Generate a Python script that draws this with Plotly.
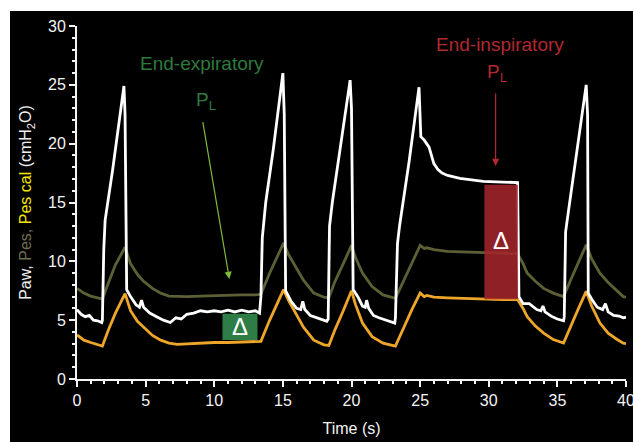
import plotly.graph_objects as go

# ---------------- data ----------------
t_paw = [0, 0.3, 0.6, 0.9, 1.2, 1.5, 1.8, 1.85, 1.95, 2.05, 2.6, 3.42, 3.5, 3.62, 3.9, 4.3, 4.55, 4.7, 4.85,
         5.3, 5.8, 6.3, 6.8, 7.2, 7.6, 8.0, 8.5, 9.0, 9.5, 10, 10.5, 11, 11.5, 12, 12.5, 13, 13.3,
         13.4, 13.5, 13.75, 14.3, 15.0, 15.1, 15.2, 15.6, 16.0, 16.3, 16.45, 16.6, 17.0, 17.5, 17.9, 18.2,
         18.3, 18.4, 18.6, 19.2, 19.9, 20.0, 20.12, 20.5, 20.8, 21.0, 21.1, 21.25, 21.6, 22.0, 22.5, 22.9, 23.15,
         23.2, 23.35, 23.5, 24.2, 24.92, 25.0, 25.05, 25.3, 25.65, 26.0, 26.3, 26.6, 27.0, 27.9, 28.8, 29.6,
         30.5, 31.3, 32.1, 32.2, 32.5, 32.95, 33.5, 33.8, 33.95, 34.1, 34.6, 35.0, 35.45,
         35.5, 35.6, 35.8, 36.4, 37.1, 37.2, 37.25, 37.6, 37.9, 38.3, 38.5, 38.7, 39.1, 39.5, 39.8, 40]
paw = [5.9, 5.5, 5.3, 5.4, 5.0, 4.95, 4.8, 5.0, 11.0, 13.5, 17.8, 24.9, 22.5, 7.6, 7.0, 6.3, 6.1, 6.7, 6.1,
       5.6, 5.3, 5.0, 4.8, 5.2, 5.1, 5.5, 5.6, 5.8, 5.7, 5.8, 5.7, 5.85, 5.7, 5.85, 5.7, 5.8, 5.6,
       7.0, 12.0, 15.0, 19.5, 26.0, 22.5, 7.5, 6.6, 6.0, 5.9, 6.6, 5.9, 5.4, 5.2, 5.0, 4.9,
       5.1, 13.0, 15.0, 20.0, 25.4, 23.0, 7.6, 6.9, 6.2, 6.1, 6.7, 6.0, 5.4, 5.2, 5.0, 4.9, 4.75,
       5.2, 11.5, 13.0, 18.5, 24.8, 22.0, 20.6, 20.3, 19.7, 18.3, 17.8, 17.5, 17.3, 17.05, 16.9, 16.8,
       16.75, 16.7, 16.7, 7.0, 6.4, 6.4, 5.9, 5.8, 6.2, 5.7, 5.3, 5.1, 4.95,
       5.3, 12.5, 14.2, 19.0, 25.0, 22.5, 7.3, 6.6, 6.1, 5.9, 6.4, 5.7, 5.4, 5.35, 5.2, 5.25]

t_pes = [0, 0.5, 1.0, 1.5, 1.85, 2.3, 2.8, 3.5, 3.9, 4.4, 4.85, 5.5, 6.1, 6.7, 7.3, 8, 9, 10, 11, 12, 13, 13.4,
         14.0, 14.5, 15.05, 15.4, 15.8, 16.5, 17.25, 18.0, 18.35, 18.8, 19.4, 20.0, 20.3, 20.8, 21.5, 22.3, 23.2,
         23.8, 24.4, 25.0, 25.3, 25.5, 26, 27, 28, 29, 30, 31, 32.1, 32.5, 32.8, 33.4, 34, 34.7, 35.45,
         36.0, 36.5, 37.1, 37.5, 38.1, 38.7, 39.3, 39.8, 40]
pes = [7.7, 7.3, 7.05, 6.9, 6.8, 8.2, 9.7, 11.2, 9.8, 8.9, 8.3, 7.7, 7.3, 7.05, 7.0, 7.0, 7.05, 7.1, 7.1, 7.15, 7.15, 7.2,
       8.9, 10.2, 11.55, 10.6, 9.8, 8.4, 7.3, 6.95, 6.9, 8.3, 9.8, 11.35, 10.3, 9.0, 7.85, 7.15, 6.85,
       8.4, 9.9, 11.35, 11.1, 11.15, 11.0, 10.85, 10.8, 10.75, 10.7, 10.7, 10.65, 9.8, 9.0, 8.3, 7.7, 7.3, 7.0,
       8.5, 9.8, 11.4, 10.2, 9.0, 8.2, 7.5, 7.0, 6.95]

t_cal = t_pes
pes_cal = [3.75, 3.3, 3.1, 2.95, 2.8, 4.2, 5.6, 7.25, 5.8, 4.9, 4.4, 3.7, 3.3, 3.05, 2.95, 3.0, 3.05, 3.1, 3.1, 3.15, 3.2, 3.2,
           4.9, 6.2, 7.6, 6.7, 5.9, 4.4, 3.3, 2.9, 2.85, 4.2, 5.8, 7.5, 6.3, 4.75, 3.6, 3.05, 2.8,
           4.4, 5.9, 7.3, 7.0, 7.1, 6.95, 6.9, 6.85, 6.8, 6.78, 6.75, 6.75, 6.0, 5.3, 4.5, 3.9, 3.35, 3.05,
           4.6, 5.9, 7.45, 6.2, 4.75, 3.9, 3.4, 3.05, 3.0]

# Delta boxes (time span, pressure span)
exp_box_t = [10.6, 13.15]
exp_box_p = [3.31, 5.55]
insp_box_t = [29.68, 32.12]
insp_box_p = [6.78, 16.5]

x_ticks = [0, 5, 10, 15, 20, 25, 30, 35, 40]
y_ticks = [0, 5, 10, 15, 20, 25, 30]

# ---------------- styling ----------------
FONT = "Liberation Sans, Arial, Helvetica, sans-serif"
WHITE = "#f4f4f4"
OLIVE = "#5d6035"
ORANGE = "#eea62a"
GREEN_TXT = "#2f7a3e"
GREEN_ARROW = "#7cbb3c"
RED = "#b1282f"

fig = go.Figure()
fig.add_trace(go.Scatter(x=t_pes, y=pes, mode="lines", line=dict(color=OLIVE, width=2.8), name="Pes"))
fig.add_trace(go.Scatter(x=t_cal, y=pes_cal, mode="lines", line=dict(color=ORANGE, width=2.8), name="Pes cal"))
fig.add_trace(go.Scatter(x=t_paw, y=paw, mode="lines", line=dict(color="#ffffff", width=2.8), name="Paw"))

fig.add_shape(type="rect", x0=exp_box_t[0], x1=exp_box_t[1], y0=exp_box_p[0], y1=exp_box_p[1],
              fillcolor="#2e7d46", line=dict(width=0), layer="above")
fig.add_shape(type="rect", x0=insp_box_t[0], x1=insp_box_t[1], y0=insp_box_p[0], y1=insp_box_p[1],
              fillcolor="rgba(163,36,42,0.88)", line=dict(width=0), layer="above")

ann = []
ann.append(dict(x=(exp_box_t[0] + exp_box_t[1]) / 2, y=(exp_box_p[0] + exp_box_p[1]) / 2, text="Δ",
                showarrow=False, font=dict(size=24, color="white", family=FONT)))
ann.append(dict(x=(insp_box_t[0] + insp_box_t[1]) / 2, y=11.8, text="Δ",
                showarrow=False, font=dict(size=24, color="white", family=FONT)))
ann.append(dict(x=9.13, y=26.85, text="End-expiratory", showarrow=False,
                font=dict(size=19, color=GREEN_TXT, family=FONT)))
ann.append(dict(x=9.4, y=23.6, text="P<sub>L</sub>", showarrow=False,
                font=dict(size=19, color=GREEN_TXT, family=FONT)))
ann.append(dict(x=11.1, y=8.5, ax=9.15, ay=21.95, xref="x", yref="y", axref="x", ayref="y", text="",
                showarrow=True, arrowhead=2, arrowsize=1.2, arrowwidth=1.2, arrowcolor=GREEN_ARROW))
ann.append(dict(x=30.84, y=28.4, text="End-inspiratory", showarrow=False,
                font=dict(size=19, color=RED, family=FONT)))
ann.append(dict(x=30.62, y=26.0, text="P<sub>L</sub>", showarrow=False,
                font=dict(size=19, color=RED, family=FONT)))
ann.append(dict(x=30.5, y=18.1, ax=30.5, ay=24.4, xref="x", yref="y", axref="x", ayref="y", text="",
                showarrow=True, arrowhead=2, arrowsize=1.2, arrowwidth=1.2, arrowcolor=RED))

ytitle = ('<span style="color:#f2f2f2">Paw, </span>'
          '<span style="color:#6e6f4d">Pes, </span>'
          '<span style="color:#f4e600">Pes cal</span>'
          '<span style="color:#f2f2f2"> (cmH<sub>2</sub>O)</span>')

# The figure sits 10 px from the left and 11 px from the top of the white page,
# and runs past the right edge of the window (the "40" label is cut as in the reference).
fig.update_layout(
    width=633, height=431,
    margin=dict(l=67, r=17, t=15, b=63, autoexpand=False),
    paper_bgcolor="black", plot_bgcolor="black",
    showlegend=False,
    annotations=ann,
    font=dict(family=FONT, color=WHITE),
    xaxis=dict(range=[0, 40], tickvals=x_ticks, ticktext=[str(v) for v in x_ticks], automargin=False,
               showgrid=False, zeroline=False, showline=True, linecolor=WHITE, linewidth=2,
               ticks="outside", ticklen=6, tickwidth=2, tickcolor=WHITE,
               tickfont=dict(size=16, color=WHITE, family=FONT),
               minor=dict(dtick=1, ticks="outside", ticklen=3, tickwidth=1.5, tickcolor=WHITE),
               title=dict(text="Time (s)", font=dict(size=16, color=WHITE, family=FONT), standoff=15)),
    yaxis=dict(range=[0, 30], tickvals=y_ticks, ticktext=[str(v) for v in y_ticks], automargin=False,
               showgrid=False, zeroline=False, showline=True, linecolor=WHITE, linewidth=2,
               ticks="outside", ticklen=6, tickwidth=2, tickcolor=WHITE,
               tickfont=dict(size=16, color=WHITE, family=FONT),
               minor=dict(dtick=1, ticks="outside", ticklen=3, tickwidth=1.5, tickcolor=WHITE),
               title=dict(text=ytitle, font=dict(size=16, family=FONT), standoff=12)),
)

fig.write_html("out.html", config={"displayModeBar": False},
               post_script=("document.body.style.margin='11px 0 0 10px';"
                            "document.body.style.background='white';"
                            "document.body.style.overflow='hidden';"
                            "document.documentElement.style.overflow='hidden';"))
